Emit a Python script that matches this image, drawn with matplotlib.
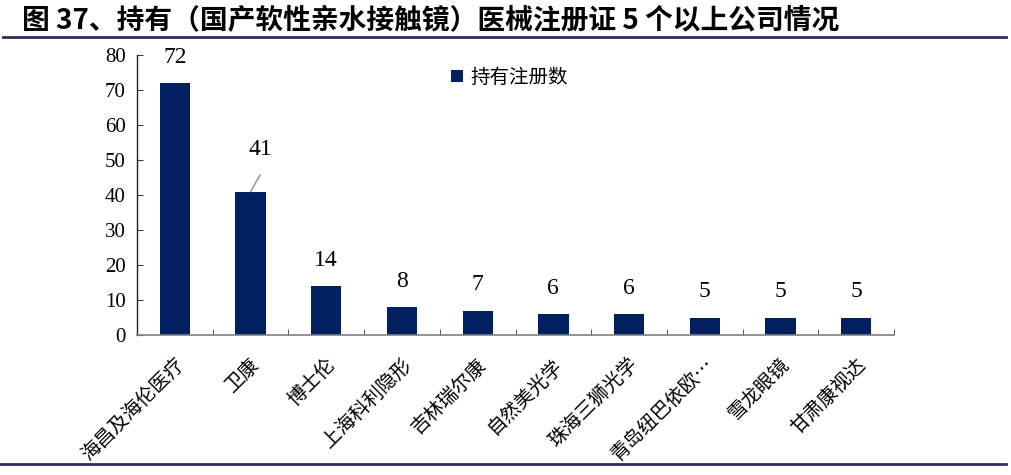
import matplotlib
matplotlib.use("Agg")
import matplotlib.pyplot as plt
from matplotlib.lines import Line2D
from matplotlib.transforms import ScaledTranslation

companies = ["海昌及海伦医疗", "卫康", "博士伦", "上海科利隐形", "吉林瑞尔康",
             "自然美光学", "珠海三狮光学", "青岛纽巴依欧…", "雪龙眼镜", "甘肃康视达"]
counts = [72, 41, 14, 8, 7, 6, 6, 5, 5, 5]
series_name = "持有注册数"
yticks = [0, 10, 20, 30, 40, 50, 60, 70, 80]
title = "图 37、持有（国产软性亲水接触镜）医械注册证 5 个以上公司情况"

navy = "#002060"
rule = "#2E2E5E"
cjk = ["Noto Sans CJK SC", "DejaVu Sans"]
serif = ["Liberation Serif", "DejaVu Serif"]

fig = plt.figure(figsize=(10.11, 4.75), dpi=100)
ax = fig.add_axes([0.1355, 0.2947, 0.7488, 0.5895])

x = list(range(len(companies)))
bars = ax.bar(x, counts, width=0.4, color=navy, label=series_name, zorder=2)

ax.set_xlim(-0.5, len(companies) - 0.5)
ax.set_ylim(0, 80)
ax.set_yticks(yticks)
ax.set_yticklabels([str(v) for v in yticks], family=serif, fontsize=15)
ax.tick_params(axis="y", direction="in", length=4, color="#404040", pad=8)

ax.set_xticks(x)
ax.set_xticklabels(companies, family=cjk, fontsize=14, rotation=45,
                   ha="right", va="center", rotation_mode="anchor")
ax.tick_params(axis="x", length=0, pad=19)
shift = ScaledTranslation(6 / 100, 0, fig.dpi_scale_trans)
for lbl in ax.get_xticklabels():
    lbl.set_transform(lbl.get_transform() + shift)
ax.set_xticks([i + 0.5 for i in x[:-1]] + [len(companies) - 0.5], minor=True)
ax.tick_params(axis="x", which="minor", direction="in", length=4, color="#404040")

for s in ["top", "right"]:
    ax.spines[s].set_visible(False)
ax.spines["left"].set_color("#202020")
ax.spines["bottom"].set_color("#808080")
ax.spines["left"].set_linewidth(1.0)
ax.spines["bottom"].set_linewidth(1.2)

for i, v in enumerate(counts):
    if i == 1:
        ax.annotate(str(v), xy=(i, v), xytext=(7, 23), textcoords="offset points",
                    ha="center", va="bottom", family=serif, fontsize=17)
        ax.annotate("", xy=(i, v), xytext=(7, 12), textcoords="offset points",
                    arrowprops=dict(arrowstyle="-", color="#A0A0A0", lw=1.2,
                                    shrinkA=0, shrinkB=0))
    else:
        ax.annotate(str(v), xy=(i, v), xytext=(0, 11), textcoords="offset points",
                    ha="center", va="bottom", family=serif, fontsize=17)

leg = ax.legend(loc="upper left", bbox_to_anchor=(0.392, 1.02), frameon=False,
                prop={"family": cjk, "size": 14}, handlelength=0.6, handleheight=0.6,
                handletextpad=0.4)

fig.text(0.022, 0.957, title, family=cjk, fontsize=20, fontweight="bold",
         ha="left", va="center", color="#000000")
fig.add_artist(Line2D([0.003, 0.995], [0.922, 0.922], color=rule, lw=2.0,
                      transform=fig.transFigure))
fig.add_artist(Line2D([0.0, 0.995], [0.023, 0.023], color=rule, lw=2.0,
                      transform=fig.transFigure))

fig.savefig("out.png", dpi=100)
